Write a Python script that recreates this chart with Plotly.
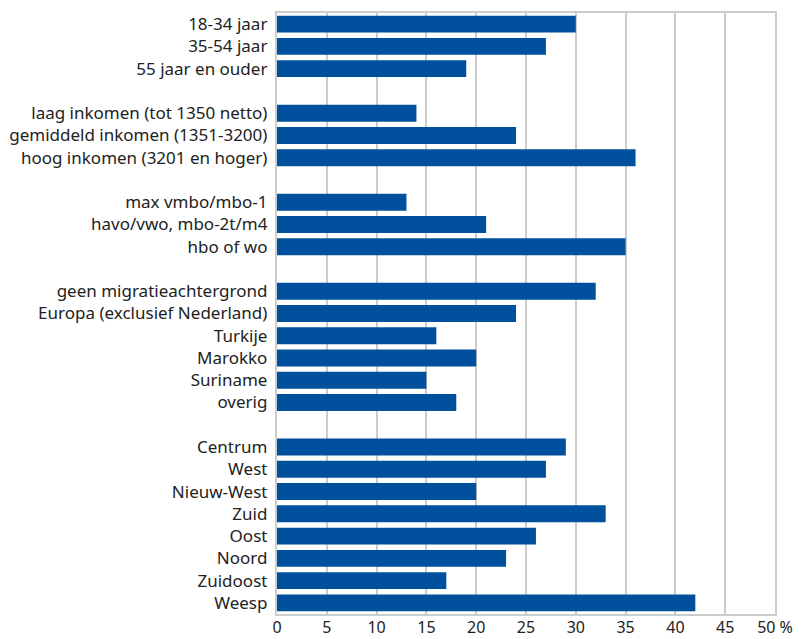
import plotly.graph_objects as go

# categories (blank entries are the gaps between groups)
categories = [
    "18-34 jaar", "35-54 jaar", "55 jaar en ouder", " ",
    "laag inkomen (tot 1350 netto)", "gemiddeld inkomen (1351-3200)",
    "hoog inkomen (3201 en hoger)", "  ",
    "max vmbo/mbo-1", "havo/vwo, mbo-2t/m4", "hbo of wo", "   ",
    "geen migratieachtergrond", "Europa (exclusief Nederland)", "Turkije",
    "Marokko", "Suriname", "overig", "    ",
    "Centrum", "West", "Nieuw-West", "Zuid", "Oost", "Noord", "Zuidoost", "Weesp",
]
values = [
    30, 27, 19, None,
    14, 24, 36, None,
    13, 21, 35, None,
    32, 24, 16, 20, 15, 18, None,
    29, 27, 20, 33, 26, 23, 17, 42,
]
tick_vals = [0, 5, 10, 15, 20, 25, 30, 35, 40, 45, 50]
tick_text = ["0", "5", "10", "15", "20", "25", "30", "35", "40", "45", "50 %"]


def draw_plot():
    fig = go.Figure(go.Bar(
        x=values, y=categories, orientation="h",
        marker=dict(color="#00509e", line=dict(width=0)),
    ))
    fig.update_layout(
        width=804, height=639,
        margin=dict(l=269, r=37, t=5, b=33),
        plot_bgcolor="white", paper_bgcolor="white",
        bargap=0.24,
        showlegend=False,
        font=dict(family="Noto Sans, sans-serif", size=17, color="#222222"),
    )
    fig.update_xaxes(
        range=[0, 50], tickvals=tick_vals, ticktext=tick_text,
        showgrid=True, gridcolor="#cccccc", gridwidth=1.5,
        showline=True, linecolor="#cccccc", linewidth=1.5, mirror=True,
        zeroline=False, ticks="", automargin=False,
        tickfont=dict(size=16), ticklabelstandoff=-2,
    )
    fig.update_yaxes(
        categoryorder="array", categoryarray=categories, autorange="reversed",
        showgrid=False, showline=True, linecolor="#cccccc", linewidth=1.5, mirror=True,
        ticks="", ticksuffix=" ", automargin=False,
    )
    fig.write_html("out.html")


def main():
    draw_plot()


if __name__ == "__main__":
    main()
